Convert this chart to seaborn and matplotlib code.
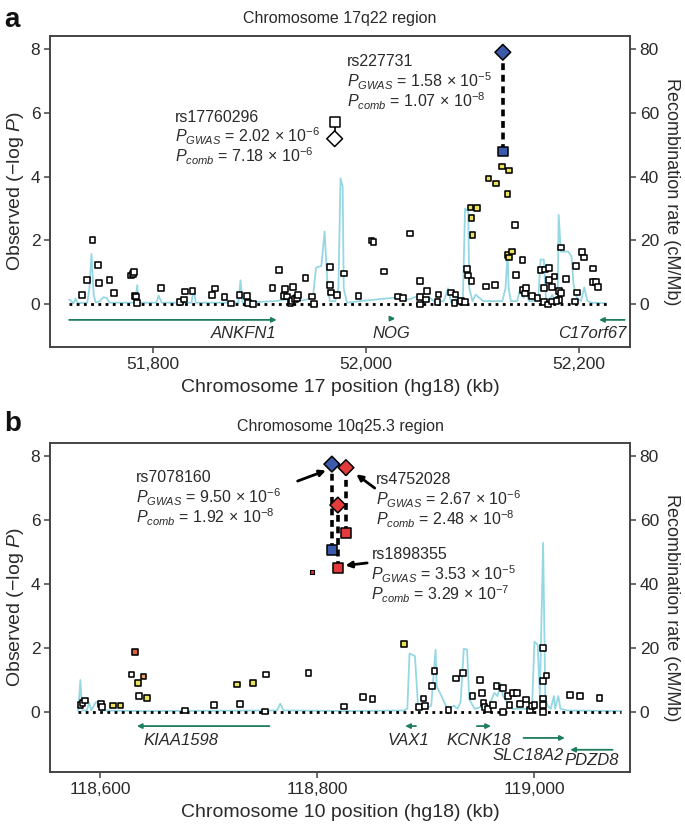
import numpy as np
import pandas as pd
import matplotlib
matplotlib.use("Agg")
import matplotlib.pyplot as plt
import seaborn as sns
from matplotlib.ticker import FuncFormatter

# ---------------- panel a : chromosome 17q22 ----------------
snp_a_pos = [51733, 51738, 51743, 51748, 51749, 51759, 51763, 51779, 51781, 51782,
             51783, 51784, 51785, 51807, 51825, 51829, 51830, 51837, 51855, 51858,
             51867, 51873, 51881, 51888, 51889, 51894, 51912, 51918, 51924, 51923,
             51926, 51931, 51929, 51930, 51933, 51935, 51936, 51943, 51949, 51951,
             51966, 51966, 51967, 51973, 51979, 51993, 52005, 52007, 52017, 52030,
             52035, 52041, 52051, 52051, 52051, 52057, 52056, 52067, 52068, 52080,
             52084, 52083, 52089, 52093, 52095, 52096, 52099, 52113, 52121, 52141,
             52147, 52147, 52150, 52149, 52156, 52161, 52164, 52168, 52172, 52172,
             52167, 52167, 52171, 52175, 52175, 52177, 52181, 52183, 52181, 52179,
             52183, 52188, 52196, 52198, 52197, 52203, 52205, 52213, 52213, 52216,
             52218, 52140,
             52128, 52134, 52115, 52122, 52133, 52098, 52104, 52099, 52100, 52133,
             52134, 52137]
snp_a_logp = [0.29, 0.77, 2.02, 1.22, 0.67, 0.75, 0.36, 0.90, 0.94, 1.00,
              0.27, 0.24, 0.03, 0.51, 0.08, 0.15, 0.40, 0.41, 0.28, 0.49,
              0.22, 0.02, 0.29, 0.26, 0.05, 0.00, 0.51, 1.07, 0.48, 0.27,
              0.24, 0.54, 0.03, 0.11, 0.16, 0.20, 0.30, 0.83, 0.24, 0.00,
              1.17, 0.61, 0.37, 0.30, 0.96, 0.25, 2.00, 1.95, 1.03, 0.24,
              0.19, 2.22, 0.74, 0.22, -0.01, 0.42, 0.15, 0.06, 0.31, 0.37,
              0.31, 0.04, 0.10, 0.07, 1.10, 0.90, 0.72, 0.56, 0.61, 0.91,
              1.38, 0.45, 0.51, 0.34, 0.27, 0.19, 1.07, 1.09, 1.14, 0.77,
              0.50, 0.06, -0.01, 0.55, 0.09, 0.87, 0.41, 0.35, 0.13, 0.10,
              1.78, 0.79, 0.09, 0.37, 1.20, 1.64, 1.47, 1.12, 0.70, 0.70,
              0.54, 2.48,
              4.32, 4.19, 3.94, 3.79, 3.46, 3.03, 3.01, 2.70, 2.16, 1.54,
              1.47, 1.65]
snp_a_ld = ["low"] * 102 + ["mid"] * 12

rec_a_pos = [51721, 51723, 51725, 51727, 51729, 51738, 51740, 51742, 51744, 51746,
             51750, 51753, 51756, 51759, 51783, 51785, 51786, 51803, 51805, 51808,
             51836, 51838, 51840, 51880, 51882, 51884, 51915, 51925, 51935, 51945,
             51950, 51953, 51958, 51961, 51964, 51966, 51971, 51974, 51976, 51978,
             51979, 51982, 51995, 52025, 52040, 52048, 52055, 52060, 52065, 52073,
             52077, 52080, 52086, 52091, 52093, 52096, 52097, 52100, 52103, 52110,
             52128, 52131, 52133, 52134, 52136, 52142, 52145, 52148, 52150, 52153,
             52157, 52162, 52164, 52167, 52169, 52172, 52175, 52177, 52180, 52181,
             52183, 52190, 52193, 52195, 52198, 52202, 52205, 52208, 52212, 52225]
rec_a_rate = [1.5, 1.0, 0.3, 1.8, 0.3, 0.5, 5, 15.8, 3, 0.5,
              1, 2.2, 2, 0.5, 0.5, 6, 0.5, 0.5, 2.7, 0.5,
              0.5, 5, 0.5, 0.5, 7.5, 0.5, 1, 1.5, 1, 1.5,
              2, 11.5, 12, 22.8, 5, 1, 1, 5, 39.5, 37,
              5, 0.5, 1, 2, 1.5, 2.5, 0.5, 2, 0.5, 1,
              5, 0.5, 2, 2, 30, 29, 5, 1, 3, 1,
              1, 5, 16, 5, 1, 1, 5, 2, 4, 1,
              1, 3, 14, 14, 2, 1, 3, 1, 2, 28,
              16.5, 16.5, 15, 6, 2, 1, 5.3, 1, 0.5, 0.3]

hl_a_name = ["rs17760296", "rs227731"]
hl_a_pos = [51970.5, 52128.5]
hl_a_gwas = [5.71, 4.79]
hl_a_comb = [5.19, 7.90]
hl_a_color = ["white", "#3b5aa9"]
hl_a_gwas_mant = ["2.02", "1.58"]
hl_a_gwas_exp = ["-6", "-5"]
hl_a_comb_mant = ["7.18", "1.07"]
hl_a_comb_exp = ["-6", "-8"]
hl_a_text_x = [51820, 51982]
hl_a_text_y = [5.87, 7.60]

genes_a_name = ["ANKFN1", "NOG", "C17orf67"]
genes_a_tail = [51721, 52023, 52243]
genes_a_head = [51916, 52027.5, 52219]
genes_a_row = [-0.49, -0.45, -0.49]
genes_a_label_x = [51916, 52024, 52245]
genes_a_label_y = [-0.92, -0.92, -0.92]
genes_a_label_ha = ["right", "center", "right"]

# ---------------- panel b : chromosome 10q25.3 ----------------
snp_b_pos = [118582, 118584, 118586, 118601, 118602, 118612, 118619, 118629, 118632, 118635,
             118636, 118640, 118643, 118678, 118705, 118726, 118729, 118741, 118753, 118752,
             118792, 118825, 118842, 118851, 118880, 118894, 118898, 118899, 118906, 118908,
             118921, 118928, 118934, 118943, 118950, 118952, 118953, 118954, 118957, 118962,
             118965, 118971, 118971, 118976, 118977, 118980, 118984, 118987, 118992, 118996,
             118998, 119000, 119008, 119008, 119011, 119008, 119008, 119008, 119033, 119042,
             119060]
snp_b_logp = [0.21, 0.28, 0.36, 0.24, 0.15, 0.20, 0.20, 1.17, 1.88, 0.91,
              0.50, 1.11, 0.44, 0.05, 0.21, 0.86, 0.26, 0.91, 1.17, 0.02,
              1.21, 0.17, 0.48, 0.41, 2.12, 0.15, 0.42, 0.19, 0.82, 1.28,
              0.07, 1.05, 1.22, 0.50, 1.00, 0.60, 0.29, 0.15, 0.10, 0.22,
              0.82, 0.76, 0.00, 0.49, 0.23, 0.60, 0.60, 0.25, 0.39, 0.07,
              0.18, 0.21, 2.00, 0.96, 1.14, 0.42, 0.21, 0.00, 0.53, 0.49,
              0.44]
snp_b_ld = ["low", "low", "low", "low", "low", "mid", "mid", "low", "top", "mid",
            "low", "high", "mid", "low", "low", "mid", "low", "mid", "low", "low",
            "low", "low", "low", "low", "mid"] + ["low"] * 36

rec_b_pos = [118580, 118582, 118583.5, 118588, 118590, 118592, 118596, 118598, 118601, 118640,
             118763, 118766, 118769, 118830, 118880, 118883, 118885, 118890, 118893, 118900,
             118905, 118909, 118910, 118913, 118917, 118920, 118926, 118929, 118932, 118935,
             118938, 118940, 118945, 118955, 118958, 118963, 118966, 118969, 118971, 118975,
             118980, 118995, 118998, 119000, 119003, 119005, 119008, 119010, 119012, 119015,
             119018, 119019, 119022, 119024, 119030, 119080]
rec_b_rate = [0.3, 10, 0.5, 0.5, 3, 0.5, 3, 3, 0.5, 0.3,
              0.5, 2.6, 0.5, 0.3, 0.5, 1, 18.3, 17.5, 1, 1,
              2, 19.5, 8, 6, 3, 1, 2, 1, 3, 19.8,
              19.5, 4, 1, 2, 1.5, 6, 5, 9, 5, 3,
              1, 1, 3, 22, 21, 5, 52.9, 5, 2, 1,
              5, 1, 5, 1, 0.5, 0.3]

hl_b_name = ["rs7078160", "rs4752028", "rs1898355"]
hl_b_pos = [118813.5, 118826.5, 118819]
hl_b_gwas = [5.06, 5.60, 4.49]
hl_b_comb = [7.75, 7.64, 6.47]
hl_b_color = ["#3b5aa9", "#e23b3b", "#e23b3b"]
hl_b_gwas_mant = ["9.50", "2.67", "3.53"]
hl_b_gwas_exp = ["-6", "-6", "-5"]
hl_b_comb_mant = ["1.92", "2.48", "3.29"]
hl_b_comb_exp = ["-8", "-8", "-7"]
hl_b_text_x = [118633, 118854, 118850]
hl_b_text_y = [7.32, 7.27, 4.92]
hl_b_arrow_tail = [(118782, 7.22), (118853, 7.0), (118846, 4.66)]
hl_b_arrow_head = [(118808, 7.55), (118836, 7.43), (118826, 4.58)]

small_b_pos = [118795]
small_b_logp = [4.38]

genes_b_name = ["KIAA1598", "VAX1", "KCNK18", "SLC18A2", "PDZD8"]
genes_b_tail = [118756, 118891, 118947, 118990, 119072]
genes_b_head = [118634, 118881, 118960, 119028, 119033]
genes_b_row = [-0.44, -0.44, -0.44, -0.81, -1.18]
genes_b_label_x = [118675, 118884, 118949, 118994, 119053]
genes_b_label_y = [-0.89, -0.89, -0.89, -1.35, -1.50]

ld_palette = {"low": "white", "mid": "#ece35a", "high": "#f0a060", "top": "#e0603c"}

# ---------------- style ----------------
sns.set_style("ticks")
plt.rcParams["font.family"] = ["Liberation Sans", "DejaVu Sans"]
plt.rcParams["mathtext.fontset"] = "custom"
plt.rcParams["mathtext.rm"] = "Liberation Sans"
plt.rcParams["mathtext.it"] = "Liberation Sans:italic"
plt.rcParams["mathtext.sf"] = "Liberation Sans"
TXT = "#2a2a2a"
REC = "#95d8e4"
GENE = "#1e7d5c"

fig = plt.figure(figsize=(6.85, 8.27), dpi=100)
W, H = 685, 827
ax_a = fig.add_axes([50 / W, 1 - 347 / H, 580 / W, 311 / H])
ax_b = fig.add_axes([50 / W, 1 - 772 / H, 580 / W, 329 / H])


def draw_panel(ax, snp_pos, snp_logp, snp_ld, rec_pos, rec_rate, xlim, ylim, xticks,
               title, xlabel, line_range):
    ax2 = ax.twinx()
    sns.lineplot(x=rec_pos, y=rec_rate, ax=ax2, color=REC, lw=1.3, zorder=1)
    ax2.set_ylim(ylim[0] * 10, ylim[1] * 10)
    ax2.set_yticks([0, 20, 40, 60, 80])
    ax2.set_ylabel("Recombination rate (cM/Mb)", rotation=270, labelpad=15,
                   fontsize=13, color=TXT)
    ax.set_zorder(ax2.get_zorder() + 1)
    ax.patch.set_visible(False)

    ax.plot(line_range, [0, 0], ls=(0, (1, 1.6)), lw=2.0, color="black", zorder=2)

    df = pd.DataFrame({"pos": snp_pos, "logp": snp_logp, "ld": snp_ld})
    sns.scatterplot(data=df, x="pos", y="logp", hue="ld", palette=ld_palette,
                    marker="s", s=17, edgecolor="black", linewidth=1.15,
                    legend=False, ax=ax, zorder=3)

    ax.set_xlim(*xlim)
    ax.set_ylim(*ylim)
    ax.set_yticks([0, 2, 4, 6, 8])
    ax.set_xticks(xticks)
    ax.xaxis.set_major_formatter(FuncFormatter(lambda v, p: f"{int(v):,}"))
    ax.set_title(title, fontsize=11.5, color=TXT, pad=9)
    ax.set_xlabel(xlabel, fontsize=14, color=TXT, labelpad=5)
    ax.set_ylabel("Observed (\u2212log $P$)", fontsize=14, color=TXT, labelpad=3)
    for a in (ax, ax2):
        a.tick_params(labelsize=12.5, length=4, width=1.1, colors="#444444",
                      labelcolor=TXT, pad=3)
        for sp in a.spines.values():
            sp.set_visible(True)
            sp.set_color("#444444")
            sp.set_linewidth(1.2)
    return ax2


def draw_highlights(ax, pos, gwas, comb, colors):
    for x, g, c, col in zip(pos, gwas, comb, colors):
        if col == "white":
            ax.plot([x, x], [g, c], color="black", lw=1.2, zorder=4)
        else:
            ax.plot([x, x], [g, c], color="black", lw=2.6, ls=(0, (1.9, 1.3)),
                    zorder=4)
    hl = pd.DataFrame({"pos": pos, "gwas": gwas, "comb": comb, "col": colors})
    sns.scatterplot(data=hl, x="pos", y="gwas", hue="col",
                    palette={c: c for c in colors}, marker="s", s=50,
                    edgecolor="black", linewidth=1.1, legend=False, ax=ax, zorder=5)
    sns.scatterplot(data=hl, x="pos", y="comb", hue="col",
                    palette={c: c for c in colors}, marker="D", s=64,
                    edgecolor="black", linewidth=1.1, legend=False, ax=ax, zorder=6)


def draw_labels(ax, names, tx, ty, gm, ge, cm, ce, dy=0.62):
    for n, x, y, a, b, c, d in zip(names, tx, ty, gm, ge, cm, ce):
        ax.text(x, y, n, fontsize=11.5, color=TXT, ha="left", va="center", zorder=7)
        ax.text(x, y - dy, rf"$P_{{GWAS}}$ = {a} $\times$ 10$^{{{b}}}$",
                fontsize=11.5, color=TXT, ha="left", va="center", zorder=7)
        ax.text(x, y - 2 * dy, rf"$P_{{comb}}$ = {c} $\times$ 10$^{{{d}}}$",
                fontsize=11.5, color=TXT, ha="left", va="center", zorder=7)


def draw_genes(ax, names, tail, head, row, lx, ly, has=None):
    for i, (n, t, h, r, x, y) in enumerate(zip(names, tail, head, row, lx, ly)):
        ax.annotate("", xy=(h, r), xytext=(t, r),
                    arrowprops=dict(arrowstyle="-|>", color=GENE, lw=1.3,
                                    mutation_scale=7, shrinkA=0, shrinkB=0),
                    zorder=4)
        ax.text(x, y, n, fontsize=12, style="italic", color=TXT,
                ha=has[i] if has else "center", va="center")


# panel a
draw_panel(ax_a, snp_a_pos, snp_a_logp, snp_a_ld, rec_a_pos, rec_a_rate,
           (51703, 52248), (-1.34, 8.41), [51800, 52000, 52200],
           "Chromosome 17q22 region", "Chromosome 17 position (hg18) (kb)",
           [51721, 52227])
draw_highlights(ax_a, hl_a_pos, hl_a_gwas, hl_a_comb, hl_a_color)
draw_labels(ax_a, hl_a_name, hl_a_text_x, hl_a_text_y, hl_a_gwas_mant, hl_a_gwas_exp,
            hl_a_comb_mant, hl_a_comb_exp)
draw_genes(ax_a, genes_a_name, genes_a_tail, genes_a_head, genes_a_row,
           genes_a_label_x, genes_a_label_y, genes_a_label_ha)

# panel b
draw_panel(ax_b, snp_b_pos, snp_b_logp, snp_b_ld, rec_b_pos, rec_b_rate,
           (118554, 119088), (-1.875, 8.41), [118600, 118800, 119000],
           "Chromosome 10q25.3 region", "Chromosome 10 position (hg18) (kb)",
           [118580, 119080])
sns.scatterplot(x=small_b_pos, y=small_b_logp, marker="s", s=9, color="#d83030",
                edgecolor="black", linewidth=0.8, ax=ax_b, zorder=4)
draw_highlights(ax_b, hl_b_pos, hl_b_gwas, hl_b_comb, hl_b_color)
draw_labels(ax_b, hl_b_name, hl_b_text_x, hl_b_text_y, hl_b_gwas_mant, hl_b_gwas_exp,
            hl_b_comb_mant, hl_b_comb_exp)
for t, h in zip(hl_b_arrow_tail, hl_b_arrow_head):
    ax_b.annotate("", xy=h, xytext=t,
                  arrowprops=dict(arrowstyle="-|>", color="black", lw=2.0,
                                  mutation_scale=9, shrinkA=0, shrinkB=0), zorder=7)
draw_genes(ax_b, genes_b_name, genes_b_tail, genes_b_head, genes_b_row,
           genes_b_label_x, genes_b_label_y)

fig.text(4 / W, 1 - 20 / H, "a", fontsize=20, fontweight="bold", color="#111111",
         va="center", ha="left")
fig.text(4 / W, 1 - 424 / H, "b", fontsize=20, fontweight="bold", color="#111111",
         va="center", ha="left")

fig.savefig("out.png", dpi=100)
